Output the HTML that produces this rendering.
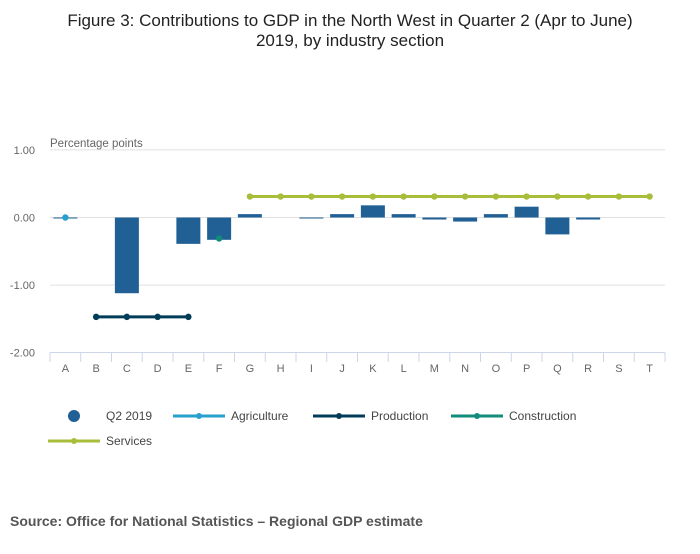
<!DOCTYPE html>
<html><head><meta charset="utf-8"><style>
body{margin:0;background:#fff;font-family:"Liberation Sans",sans-serif;}
svg text{font-family:"Liberation Sans",sans-serif;}
</style></head><body>
<svg width="700" height="549" xmlns="http://www.w3.org/2000/svg">
<text x="350" y="26" text-anchor="middle" font-size="17" fill="#222">Figure 3: Contributions to GDP in the North West in Quarter 2 (Apr to June)</text>
<text x="350" y="46" text-anchor="middle" font-size="17" fill="#222">2019, by industry section</text>
<text x="50" y="147" font-size="11.5" fill="#666">Percentage points</text>
<g id="grid"></g><g id="bars"></g><g id="lines"></g><g id="xaxis"></g>
<g>
<circle cx="74" cy="416" r="6" fill="#206095"/>
<text x="106" y="420" font-size="12" fill="#444">Q2 2019</text>
<line x1="173" y1="416" x2="225" y2="416" stroke="#27a0cc" stroke-width="3"/><circle cx="199" cy="416" r="3" fill="#27a0cc"/>
<text x="231" y="420" font-size="12" fill="#444">Agriculture</text>
<line x1="313" y1="416" x2="365" y2="416" stroke="#003c57" stroke-width="3"/><circle cx="339" cy="416" r="3" fill="#003c57"/>
<text x="371" y="420" font-size="12" fill="#444">Production</text>
<line x1="451" y1="416" x2="503" y2="416" stroke="#118c7b" stroke-width="3"/><circle cx="477" cy="416" r="3" fill="#118c7b"/>
<text x="509" y="420" font-size="12" fill="#444">Construction</text>
<line x1="48" y1="441" x2="100" y2="441" stroke="#a8bd3a" stroke-width="3"/><circle cx="74" cy="441" r="3" fill="#a8bd3a"/>
<text x="106" y="445" font-size="12" fill="#444">Services</text>
</g>
<text x="10" y="526" font-size="14" font-weight="bold" fill="#555">Source: Office for National Statistics – Regional GDP estimate</text>
</svg>
<script>
const categories=["A","B","C","D","E","F","G","H","I","J","K","L","M","N","O","P","Q","R","S","T"];
const q2Values=[-0.01,0,-1.12,0,-0.39,-0.33,0.05,0,-0.01,0.05,0.18,0.05,-0.03,-0.06,0.05,0.16,-0.25,-0.03,0,0];
const agriculture=[0.00];
const production=[-1.47,-1.47,-1.47,-1.47];
const construction=[-0.31];
const services=[0.31,0.31,0.31,0.31,0.31,0.31,0.31,0.31,0.31,0.31,0.31,0.31,0.31,0.31];
const yTicks=[1,0,-1,-2];
const yTickLabels=["1.00","0.00","-1.00","-2.00"];
const NS="http://www.w3.org/2000/svg";
const x0=50,x1=665,bw=(x1-x0)/categories.length;
const xC=i=>x0+bw*(i+0.5);
const y=v=>217.5-v*67.6;
function mk(t,a,p){const e=document.createElementNS(NS,t);for(const k in a)e.setAttribute(k,a[k]);p.appendChild(e);return e;}
const grid=document.getElementById('grid');
yTicks.forEach((v,i)=>{
 if(v>-2){const l=mk('line',{x1:x0,x2:x1,y1:y(v),y2:y(v),stroke:'#e0e0e0','stroke-width':1},grid);
 
 }
 const t=mk('text',{x:35,y:y(v)+4,'text-anchor':'end','font-size':11,fill:'#666'},grid);t.textContent=yTickLabels[i];
 
 
});
const bars=document.getElementById('bars');
q2Values.forEach((v,i)=>{
 if(v===0)return;
 const top=Math.min(y(v),y(0)),h=Math.max(Math.abs(y(v)-y(0)),1);
 const r=mk('rect',{x:xC(i)-12,y:top,width:24,height:h,fill:'#206095'},bars);
 
 
});
const lines=document.getElementById('lines');
function series(vals,start,color,name){
 const pts=vals.map((v,k)=>[xC(start+k),y(v)]);
 if(pts.length>1){const p=mk('polyline',{points:pts.map(p=>p.join(',')).join(' '),fill:'none',stroke:color,'stroke-width':3},lines);
 
 }
 pts.forEach((p,k)=>{const c=mk('circle',{cx:p[0],cy:p[1],r:3.2,fill:color},lines);
 
 });
}
series(agriculture,0,'#27a0cc','agriculture');
series(production,1,'#003c57','production');
series(construction,5,'#118c7b','construction');
series(services,6,'#a8bd3a','services');
const xa=document.getElementById('xaxis');
const ax=mk('line',{x1:x0,x2:x1,y1:352.5,y2:352.5,stroke:'#ccd6e8','stroke-width':1},xa);


for(let i=0;i<=categories.length;i++){mk('line',{x1:x0+bw*i,x2:x0+bw*i,y1:352.5,y2:362,stroke:'#ccd6e8'},xa);}
categories.forEach((c,i)=>{const t=mk('text',{x:xC(i),y:372,'text-anchor':'middle','font-size':11,fill:'#666'},xa);t.textContent=c;
 
 });
</script>
</body></html>
